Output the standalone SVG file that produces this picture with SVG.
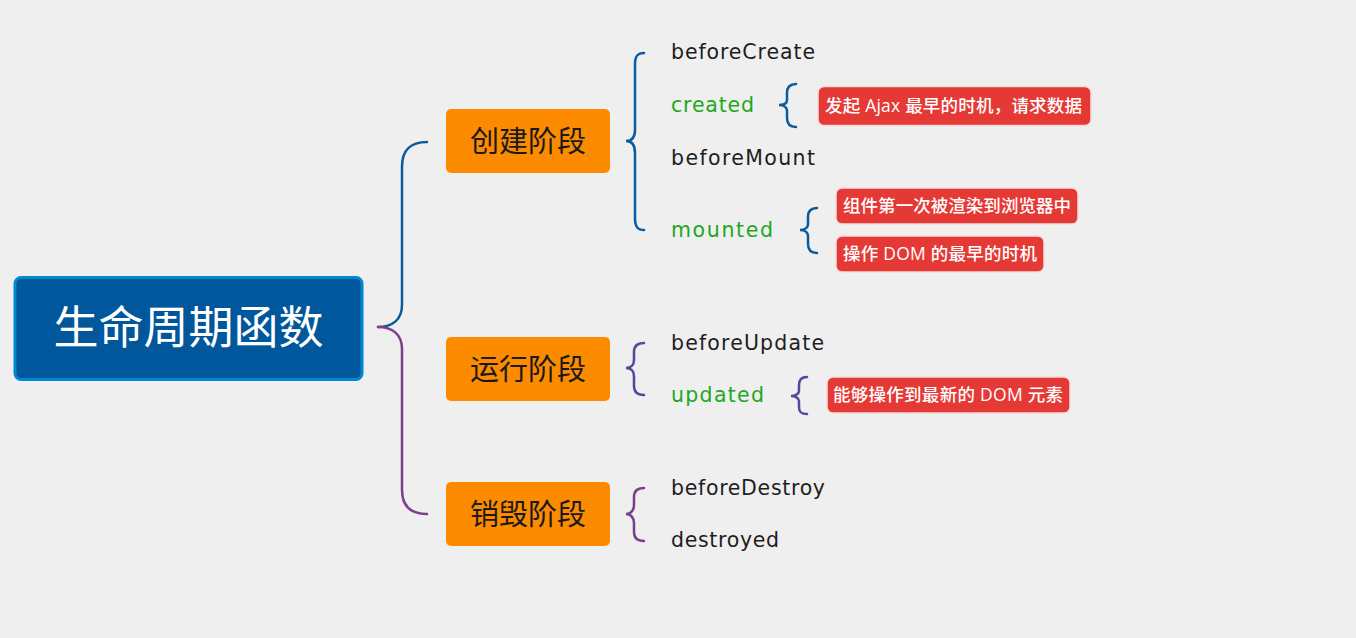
<svg xmlns="http://www.w3.org/2000/svg" width="1356" height="638" viewBox="0 0 1356 638">
<style>
.lbl{font-family:"DejaVu Sans","Noto Sans CJK SC",sans-serif;font-size:20.5px;fill:#1e1e1e}
.grn{fill:#1ea81e}
.stage rect{fill:#fd8b00}
.stage text{font-family:"Noto Sans CJK SC",sans-serif;font-size:29px;fill:#1a1a1a;text-anchor:middle}
.note rect{fill:#e53935;stroke:#f7dcdb;stroke-width:1.5}
.note text{font-family:"Open Sans","Noto Sans CJK SC",sans-serif;font-size:17.5px;font-weight:500;fill:#ffffff}
.br{fill:none;stroke-width:2.5;stroke-linecap:round}
</style>
<rect width="1356" height="638" fill="#efefef"/>
<g id="connectors">
  <path class="br" stroke="#0a5a9c" stroke-width="3" d="M427,142 C410,142 402,150 402,167 L402,305 C402,320 392,327 378,327"/>
  <path class="br" stroke="#7b3f8c" stroke-width="3" d="M378,327 C392,327 402,334 402,349 L402,490 C402,506 410,514 427,514"/>
  <path class="br" stroke="#0a5a9c" d="M644,53 C637,53 635,57 635,64 L635,130 C635,138 632,141 626,141 C632,141 635,145 635,153 L635,219 C635,226 637,230 644,230"/>
  <path class="br" stroke="#0a5a9c" d="M796,84 C790,84 787,87 787,93 L787,100 C787,104 783,105 779,105 C783,105 787,107 787,111 L787,118 C787,124 790,127 796,127"/>
  <path class="br" stroke="#0a5a9c" d="M817,208 C811,208 808,211 808,217 L808,224 C808,228 804,230 800,230 C804,230 808,232 808,236 L808,244 C808,250 811,253 817,253"/>
  <path class="br" stroke="#4f4a9c" d="M644,343 C637,343 634,346 634,352 L634,360 C634,365 631,368 626,368 C631,368 634,371 634,376 L634,386 C634,392 637,395 644,395"/>
  <path class="br" stroke="#4f4a9c" d="M807,377 C801,377 799,380 799,385 L799,391 C799,394 795,396 791,396 C795,396 799,398 799,401 L799,407 C799,412 801,414 807,414"/>
  <path class="br" stroke="#7b3f8c" d="M644,488 C637,488 634,491 634,497 L634,505 C634,510 631,514 626,514 C631,514 634,518 634,523 L634,532 C634,538 637,541 644,541"/>
</g>
<g id="root">
  <rect x="15" y="277.5" width="347" height="102" rx="6" fill="#01579b" stroke="#0288d1" stroke-width="3"/>
  <text x="188.5" y="344" font-family="Noto Sans CJK SC,sans-serif" font-size="45" fill="#ffffff" text-anchor="middle">生命周期函数</text>
</g>
<g id="stage-create" class="stage">
  <rect x="446" y="109" width="164" height="64" rx="5"/>
  <text x="528" y="152">创建阶段</text>
</g>
<g id="stage-run" class="stage">
  <rect x="446" y="337" width="164" height="64" rx="5"/>
  <text x="528" y="380">运行阶段</text>
</g>
<g id="stage-destroy" class="stage">
  <rect x="446" y="482" width="164" height="64" rx="5"/>
  <text x="528" y="525">销毁阶段</text>
</g>
<g id="n-beforeCreate"><text class="lbl" x="671" y="59" textLength="144" lengthAdjust="spacing">beforeCreate</text></g>
<g id="n-created"><text class="lbl grn" x="671" y="112" textLength="83" lengthAdjust="spacing">created</text></g>
<g id="n-beforeMount"><text class="lbl" x="671" y="165" textLength="144" lengthAdjust="spacing">beforeMount</text></g>
<g id="n-mounted"><text class="lbl grn" x="671" y="237" textLength="102" lengthAdjust="spacing">mounted</text></g>
<g id="n-beforeUpdate"><text class="lbl" x="671" y="350" textLength="153" lengthAdjust="spacing">beforeUpdate</text></g>
<g id="n-updated"><text class="lbl grn" x="671" y="402" textLength="93" lengthAdjust="spacing">updated</text></g>
<g id="n-beforeDestroy"><text class="lbl" x="671" y="495" textLength="154" lengthAdjust="spacing">beforeDestroy</text></g>
<g id="n-destroyed"><text class="lbl" x="671" y="547" textLength="108" lengthAdjust="spacing">destroyed</text></g>
<g id="note-created" class="note">
  <rect x="818" y="86.5" width="273" height="39" rx="6"/>
  <text x="825" y="112" textLength="257" lengthAdjust="spacing">发起 Ajax 最早的时机，请求数据</text>
</g>
<g id="note-mounted-1" class="note">
  <rect x="836" y="188" width="242" height="36" rx="6"/>
  <text x="843" y="212" textLength="228" lengthAdjust="spacing">组件第一次被渲染到浏览器中</text>
</g>
<g id="note-mounted-2" class="note">
  <rect x="836" y="236" width="208" height="36" rx="6"/>
  <text x="843" y="260" textLength="194" lengthAdjust="spacing">操作 DOM 的最早的时机</text>
</g>
<g id="note-updated" class="note">
  <rect x="827" y="377" width="243" height="36" rx="6"/>
  <text x="833" y="401" textLength="230" lengthAdjust="spacing">能够操作到最新的 DOM 元素</text>
</g>
</svg>
